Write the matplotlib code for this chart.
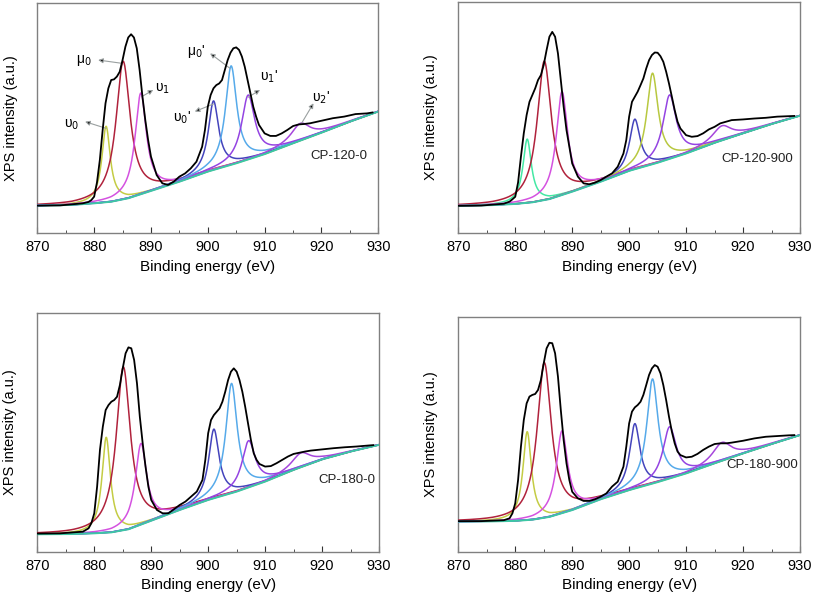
import numpy as np
import matplotlib
matplotlib.use('Agg')
import matplotlib.pyplot as plt

plt.rcParams['font.family'] = ['Liberation Sans', 'DejaVu Sans']

# Energies at which the measured (black) spectra were read
e_raw = [870, 874, 878, 879, 879.5,
         880, 880.5, 881, 881.5, 882, 882.5, 883, 883.5, 884, 884.5, 885, 885.5, 886, 886.5,
         887, 887.5, 888, 888.5, 889, 889.5, 890,
         891, 892, 893, 894, 895, 896, 897, 898, 899,
         899.5, 900, 900.5, 901, 901.5, 902, 902.5, 903, 903.5, 904, 904.5, 905, 905.5, 906,
         906.5, 907, 907.5, 908, 908.5, 909,
         910, 911, 912, 913, 914, 915, 916, 917, 918,
         920, 922, 924, 926, 928, 929]

raw_120_0 = [11.9, 12.0, 12.9, 13.5, 14.3,
             15.8, 22, 31.7, 44.8, 56.4, 62.9, 66.5, 66.8, 68, 70.1, 75.2, 81, 85, 86.4,
             85, 80.3, 70.9, 59.3, 49.1, 40.4, 33.2,
             25.2, 21.6, 20.9, 22.3, 24.5, 25.9, 28.1, 31, 37.5,
             44.8, 54.9, 60, 62.9, 64.3, 65, 66.5, 70.9, 75.2, 78.4, 80.3, 80.7, 79.6, 76.7,
             72.3, 66.5, 60.7, 54.9, 50.6, 47,
             43.3, 42.2, 42.2, 43.3, 44.8, 46.5, 47.2, 47.4, 47.7,
             48.8, 49.9, 50.6, 51.7, 52, 52.4]

raw_120_900 = [11.9, 12.0, 12.8, 13.7, 14.7,
               15.8, 22, 33.1, 43.2, 51.1, 56.8, 59.7, 62.6, 66.2, 68.3, 72.7, 79.1, 84.9, 87,
               84.9, 77.7, 66.2, 54.7, 44.6, 37.4, 30.2,
               24.5, 21.6, 21.2, 21.9, 23, 24.5, 25.9, 28.8, 34.5,
               40.3, 50.4, 56.8, 59, 61.2, 64, 66.9, 71.2, 74.8, 77, 78.1, 78, 76.5, 74.1,
               69.8, 64.7, 59, 53.2, 48.2, 45.3,
               42.4, 41.7, 42, 43.2, 44.9, 46, 47.5, 48.2, 48.9,
               49.2, 49.6, 49.9, 50.4, 50.6, 50.7]

raw_180_0 = [7.6, 7.7, 8.4, 9.8, 12,
             16.1, 27.3, 42.7, 52.4, 59.4, 61.5, 62.9, 63.6, 65, 69.9, 76.9, 83.2, 85.7, 85.3,
             80.4, 70.6, 56.6, 45.5, 35.7, 27.3, 21.7,
             17.5, 16.1, 16.1, 17.8, 19.6, 21, 23.1, 25.2, 30.1,
             38.5, 49.7, 55.2, 57.3, 58.7, 60.1, 62.9, 67.1, 72, 75.5, 76.9, 75.5, 72, 67.1,
             60.8, 53.8, 46.9, 41.3, 38.5, 36.8,
             35.7, 35.9, 37.1, 38.5, 39.9, 41, 41.5, 42, 42.4,
             42.9, 43.4, 43.8, 44.1, 44.5, 44.7]

raw_180_900 = [13.0, 13.0, 13.4, 14.2, 16.3,
               20.6, 30.5, 44.7, 56, 63.1, 66, 66.7, 67.1, 68.8, 73, 80.1, 86.5, 88.9, 88.7,
               84.4, 74.5, 60.3, 47.5, 37.6, 30.5, 25.5,
               22.7, 21.6, 21.6, 22.3, 23.4, 24.8, 27.7, 29.8, 36.2,
               44.7, 54.6, 59.6, 61.4, 62.4, 63.8, 66.7, 70.9, 75.2, 78, 79.4, 78.7, 75.9, 70.9,
               64.5, 57.4, 51.1, 46.1, 42.6, 41.1,
               40.1, 40.4, 41.6, 43.3, 44.7, 45.8, 46.1, 46.1, 46.4,
               47.2, 48.2, 48.9, 49.2, 49.5, 49.6]

# Background (read at these energies)
e_bg = [870, 876, 880, 883, 886, 890, 895, 900, 905, 910, 915, 920, 925, 930]
bg_120_0 = [11.9, 12.2, 12.9, 13.6, 15.1, 18.3, 22.3, 26.7, 30.3, 34.3, 39.0, 43.6, 48.4, 52.8]
bg_120_900 = [11.9, 12.2, 12.7, 13.4, 14.8, 18.0, 22.3, 27.0, 30.5, 34.5, 39.1, 43.2, 47.2, 50.8]
bg_180_0 = [7.3, 7.4, 7.7, 8.1, 9.4, 13.0, 17.5, 21.7, 25.2, 29.4, 34.3, 38.7, 42.0, 44.8]
bg_180_900 = [12.8, 12.9, 13.1, 13.6, 14.8, 17.7, 22.3, 26.2, 29.6, 33.3, 37.6, 41.8, 45.8, 49.6]

# Fitted components: centre (eV), FWHM (eV)
peak_names = ['υ0', 'μ0', 'υ1', "υ0'", "μ0'", "υ1'", "υ2'"]
centres = [882.1, 885.1, 888.2, 901.0, 904.1, 907.1, 916.3]
fwhm = [1.8, 3.0, 2.4, 2.2, 2.4, 2.8, 4.0]
# heights above background
amp_120_0 = [33, 60, 44, 30, 43, 28, 7.5]
amp_120_900 = [27.5, 60, 44.6, 21.6, 39.3, 27.6, 6.3]
amp_180_0 = [40, 68.5, 34, 29, 46, 19.6, 6]
amp_180_900 = [37.6, 66, 35, 27.6, 44.5, 22, 7.8]

colors_a = ['#c4cc44', '#b0223c', '#d452e0', '#4444bc', '#56aaea', '#9444e2', '#a646dc']
colors_b = ['#44e8a4', '#b0223c', '#d452e0', '#4444bc', '#b8c840', '#9444e2', '#a646dc']

samples = ['CP-120-0', 'CP-120-900', 'CP-180-0', 'CP-180-900']
raws = [raw_120_0, raw_120_900, raw_180_0, raw_180_900]
bgs = [bg_120_0, bg_120_900, bg_180_0, bg_180_900]
amps = [amp_120_0, amp_120_900, amp_180_0, amp_180_900]
palettes = [colors_a, colors_b, colors_a, colors_a]
label_pos = [(923.0, 33.6), (922.5, 31.9), (924.3, 30.1), (923.3, 36.9)]

# panel rectangles in figure fractions
rects = [[0.0459, 0.6084, 0.4194, 0.3866],
         [0.5637, 0.6078, 0.4203, 0.3892],
         [0.0459, 0.0728, 0.4203, 0.4007],
         [0.5637, 0.0728, 0.4203, 0.3950]]

# annotation arrows on first panel: (label, text xy, arrow head xy, peak xy)
notes = [('υ$_0$', (876.0, 47.0), (878.4, 48.4), (882.1, 45.5)),
         ('μ$_0$', (878.2, 74.8), (880.7, 75.2), (884.8, 73.8)),
         ('υ$_1$', (892.0, 62.9), (890.4, 62.2), (888.4, 59.3)),
         ("μ$_0$'", (898.0, 78.8), (900.4, 78.1), (903.9, 71.6)),
         ("υ$_0$'", (895.4, 49.9), (897.7, 52.8), (901.0, 56.1)),
         ("υ$_1$'", (910.8, 68.0), (909.2, 62.2), (907.1, 59.0)),
         ("υ$_2$'", (919.9, 58.6), (918.6, 56.4), (916.5, 47.7))]

fig = plt.figure(figsize=(8.13, 5.95), dpi=100)
grid = np.linspace(870, 930, 1201)

for i in range(4):
    ax = fig.add_axes(rects[i])
    bg = np.interp(grid, e_bg, bgs[i])

    for k in range(len(centres)):
        hw = fwhm[k] / 2
        comp = bg + amps[i][k] / (1 + ((grid - centres[k]) / hw) ** 2)
        ax.plot(grid, comp, color=palettes[i][k], lw=1.1, zorder=3)
    # background on top of the component tails
    ax.plot(e_bg, bgs[i], color='#3cc8a4', lw=1.4, zorder=3.5)
    ax.plot(e_raw, raws[i], color='black', lw=1.3, zorder=4)

    ax.text(label_pos[i][0], label_pos[i][1], samples[i], fontsize=9.5,
            ha='center', va='center', color='#222222')

    ax.set_xlim(870, 930)
    ax.set_ylim(0, 100)
    ax.set_xticks(range(870, 931, 10))
    ax.set_xticks(range(875, 930, 10), minor=True)
    ax.set_yticks([])
    ax.tick_params(axis='x', which='both', direction='in', labelsize=10.5, pad=5, color='#333333')
    ax.tick_params(axis='x', which='major', length=4)
    ax.tick_params(axis='x', which='minor', length=2.5)
    for s in ax.spines.values():
        s.set_color('#808080')
        s.set_linewidth(1.0)
    ax.set_xlabel('Binding energy (eV)', fontsize=11, labelpad=4)
    ax.set_ylabel('XPS intensity (a.u.)', fontsize=10.5)
    ax.yaxis.set_label_coords(-0.058, 0.5)

    if i == 0:
        for txt, tpos, head, peak in notes:
            ax.annotate('', xy=head, xytext=peak,
                        arrowprops=dict(arrowstyle='-|>', color='#9aa0a0', fc='black',
                                        lw=0.8, mutation_scale=7, shrinkA=0, shrinkB=0))
            ax.text(tpos[0], tpos[1], txt, fontsize=10, ha='center', va='center')

fig.savefig('out.png', dpi=100)
